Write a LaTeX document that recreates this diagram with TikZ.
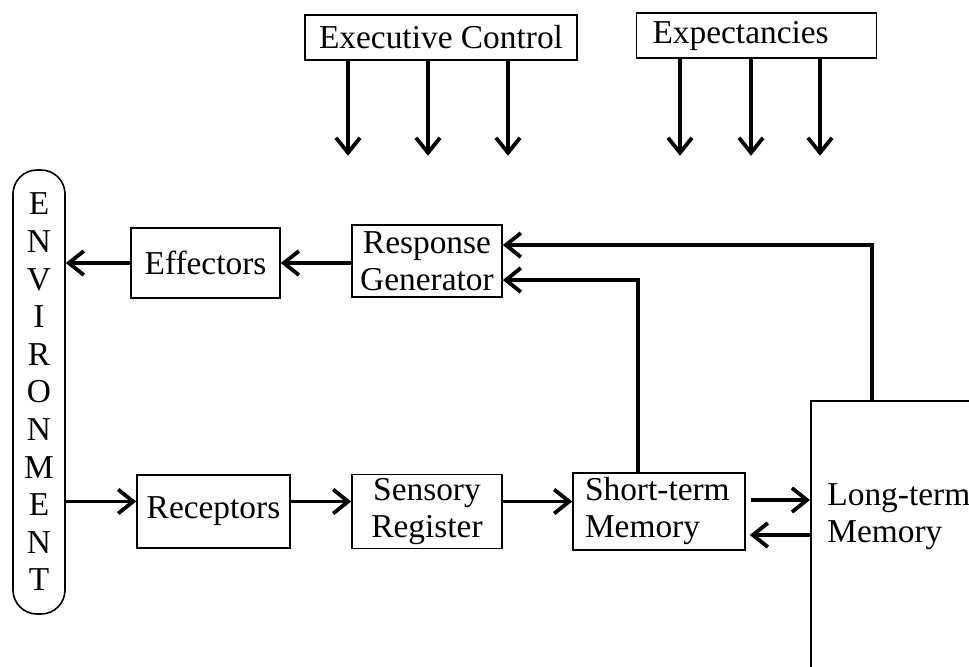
\documentclass[tikz,border=0pt]{standalone}
\usepackage{fontspec}
\setmainfont{Liberation Serif}
\usetikzlibrary{arrows.meta,positioning}

\begin{document}
\begin{tikzpicture}[x=0.5pt,y=-0.5pt]
  \tikzset{block/.style = {shape=rectangle,draw,line width=0.8pt,inner sep=2pt,font=\fontsize{16.7}{18.5}\selectfont}}
  \tikzset{envblock/.style = {block,rounded corners=12pt,minimum width=26pt,minimum height=222pt,align=center,font=\fontsize{16.7}{18.8}\selectfont}}
  \tikzset{edge/.style = {-tipA,line width=1.9pt}}
  \tikzset{%
  tipA/.tip={Straight Barb[length=7.5pt,width=12pt]},
}

  \useasboundingbox (0,0) rectangle (969,666);
  \clip (0,0) rectangle (969,666);

	\node[block,minimum width=136pt,minimum height=22.5pt] (exec) at (441,37.5) {Executive Control};
	\node[block,text width=104pt,inner xsep=8pt,align=left,minimum height=22.5pt] (expect) at (756.5,35.5) {Expectancies};

	\node[envblock] (env) at (39,392) {E\\N\\V\\I\\R\\O\\N\\M\\E\\N\\T};

	\node[block,minimum width=74.5pt,minimum height=35pt] (eff) at (205.5,263) {Effectors};
	\node[block,align=center,minimum width=75pt,minimum height=36pt] (rg) at (427,261) {Response\\Generator};

	\node[block,minimum width=76.5pt,minimum height=36.5pt] (rec) at (213.5,511.5) {Receptors};
	\node[block,align=center,minimum width=75pt,minimum height=36.5pt] (sr) at (427,511.5) {Sensory\\Register};
	\node[block,align=left,text width=74pt,inner xsep=6pt,minimum height=38.5pt] (stm) at (659,511.5) {Short-term\\Memory};

	\node[block,anchor=north west,minimum width=150pt,minimum height=200pt] (ltm) at (810,400) {};
	\path (ltm.west |- stm.east) node[right=8.5pt,yshift=-2.5pt,inner sep=0pt,align=left,font=\fontsize{16.7}{18.8}\selectfont] (ltmtext) {Long-term\\Memory};

	\coordinate (recin) at ([yshift=5pt]rec.west);
	\coordinate (stmout) at ([xshift=2.5pt,yshift=5.75pt]stm.east);
	\coordinate (stmin) at ([xshift=2pt,yshift=-11.75pt]stm.east);

    \foreach \dx in {-46.5,-6.5,33.5}
    \draw[edge] ([xshift=\dx pt]exec.south) -- ++(0,95);
    \foreach \dx in {-38.25,-2.75,31.75}
    \draw[edge] ([xshift=\dx pt]expect.south) -- ++(0,97);

    \draw[edge] (eff.west) -- (eff.west -| env.east);
    \draw[edge] (rg.west |- eff.east) -- (eff.east);
    \draw[edge] (env.east |- recin) -- (recin);

    \foreach \from/\to in {rec/sr, sr/stm}
    \draw[edge] ([yshift=5pt]\from.east) -- ([yshift=5pt]\to.west);

    \draw[edge] (stmout) -- (stmout -| ltm.west);
    \draw[edge] (stmin -| ltm.west) -- (stmin);

    \draw[edge] ([xshift=-10.5pt]stm.north) |- ([yshift=-9.5pt]rg.east);
    \draw[edge] ([xshift=31pt]ltm.north west) |- ([yshift=8pt]rg.east);

\end{tikzpicture}
\end{document}
